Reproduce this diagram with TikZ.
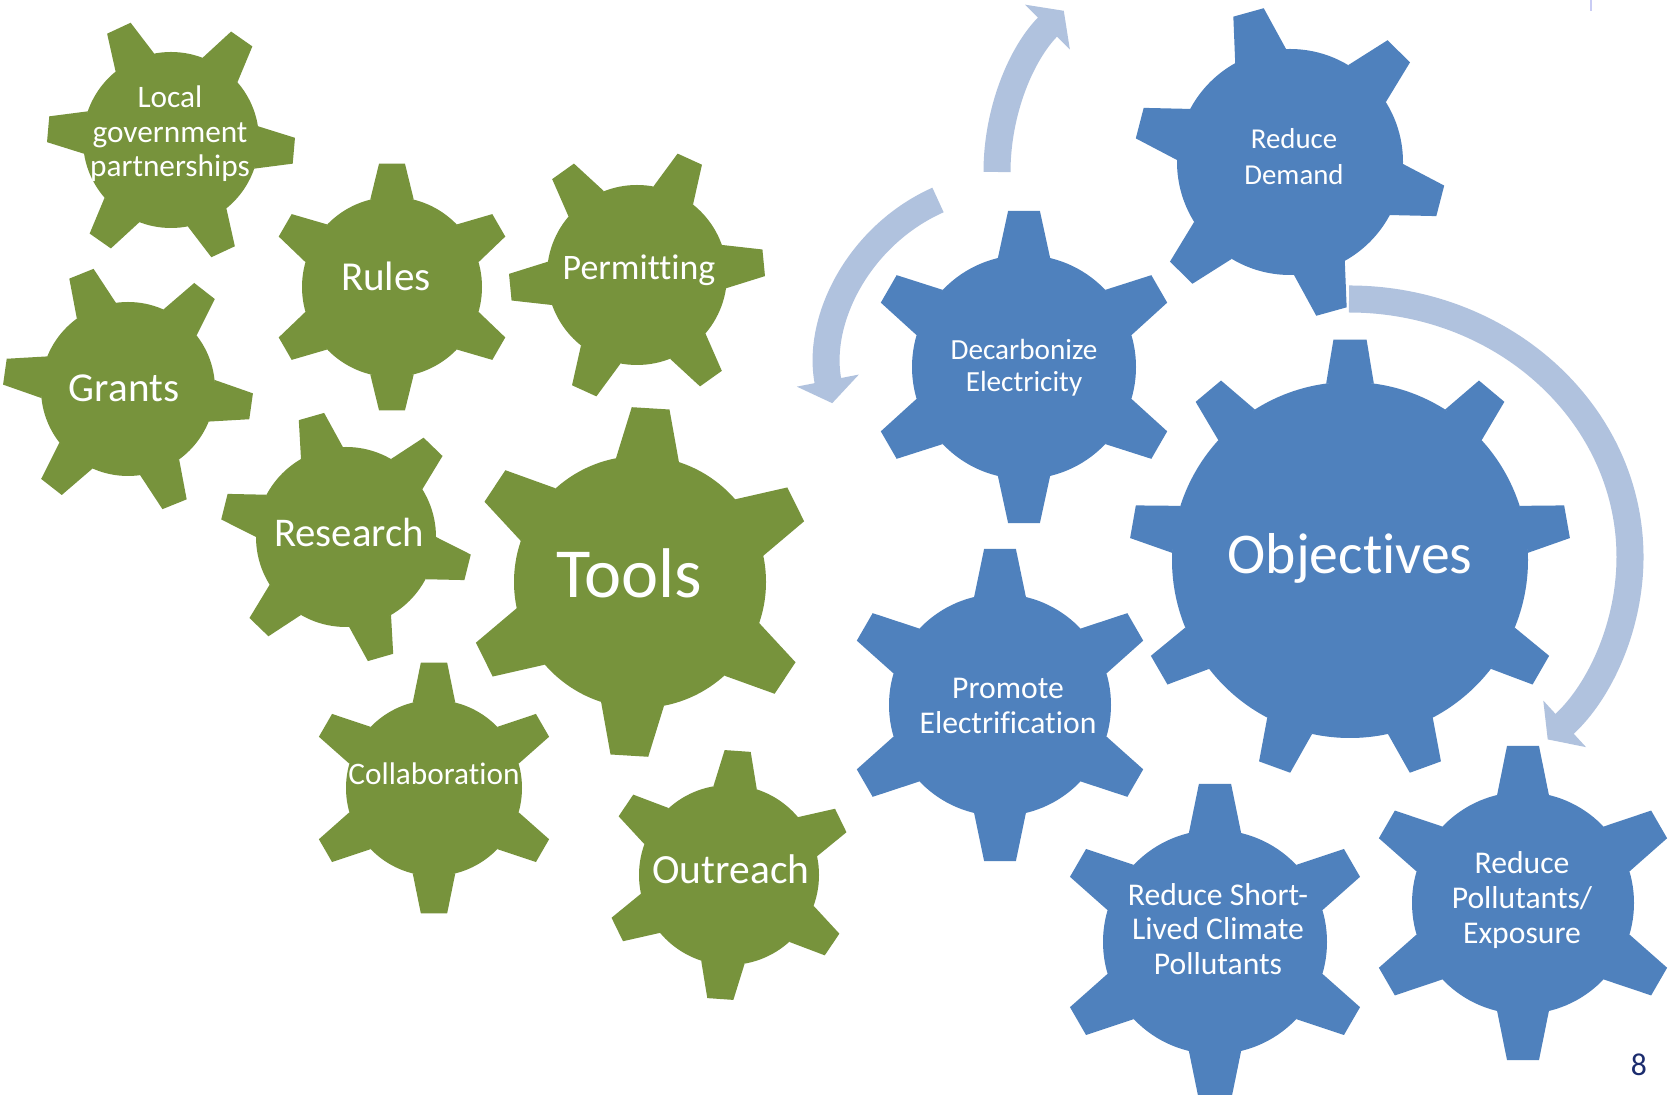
\documentclass[tikz,border=0pt]{standalone}
\usepackage{fontspec}
\setmainfont{Carlito}[RawFeature={-liga;-clig;-calt}]
\usetikzlibrary{arrows.meta}

\definecolor{toolgreen}{HTML}{77933C}
\definecolor{aimblue}{HTML}{4F81BD}
\definecolor{swirl}{HTML}{B0C2DE}
\definecolor{slidenavy}{HTML}{1B2C6E}
\definecolor{edgemark}{HTML}{C9CCF4}

\tikzset{
  pics/cog/.style n args={6}{code={
    \fill (0,0) circle[radius=#1];
    \foreach \k in {1,...,#4}{
      \pgfmathsetmacro\cogangle{#3+360/#4*\k}
      \fill ({\cogangle-#5}:#1) -- ({\cogangle-#6}:#2) -- ({\cogangle+#6}:#2) -- ({\cogangle+#5}:#1) -- cycle;
    }
  }},
  toolcog/.style={toolgreen},
  aimcog/.style={aimblue},
  cogtext/.style={text=white, align=center, inner sep=0pt},
  turnarrow/.style={swirl, line width=0.27cm, -{Triangle[width=0.62cm, length=0.23cm]}},
}

\begin{document}
\begin{tikzpicture}[x=0.01cm, y=-0.01cm]
    \useasboundingbox (0,0) rectangle (1672,1095);
    \fill[white] (0,0) rectangle (1672,1095);
    \fill[edgemark] (1590,0) rectangle (1592,11);

    \coordinate (risetail)  at (997,172);
    \coordinate (swingtail) at (938,200);
    \coordinate (ringtail)  at (1349,299);
    \draw[turnarrow] (risetail)  arc[start angle=180, end angle=225, radius=228];
    \draw[turnarrow] (swingtail) arc[start angle=246, end angle=169, radius=184];
    \draw[turnarrow] (ringtail)  arc[start angle=-90, end angle=45, x radius=281, y radius=258];

    \pic[toolcog] (localcog)   at (171,140)  {cog={88}{124}{5}{6}{14}{6}};
    \pic[toolcog] (grantscog)  at (128,389)  {cog={87}{125}{8}{6}{14}{6}};
    \pic[toolcog] (rulescog)   at (392,287)  {cog={90}{124}{30}{6}{14}{6}};
    \pic[toolcog] (permitcog)  at (637,275)  {cog={90}{128}{-5.5}{6}{14}{6}};
    \pic[toolcog] (researchcog) at (346,537) {cog={90}{126}{14}{6}{14}{6}};
    \pic[toolcog] (toolscog)   at (640,582)  {cog={126}{175}{33.5}{6}{14.5}{6.2}};
    \pic[toolcog] (collabcog)  at (434,788)  {cog={88}{126}{30}{6}{14}{6}};
    \pic[toolcog] (outreachcog) at (729,875) {cog={90}{125}{34}{6}{14}{6}};

    \pic[aimcog] (decarbcog)   at (1024,367) {cog={112}{157}{30}{6}{13.5}{5.8}};
    \pic[aimcog] (demandcog)   at (1290,162) {cog={113}{156}{14.5}{6}{13.5}{5.8}};
    \pic[aimcog] (objectcog)   at (1350,560) {cog={178}{221}{30}{9}{7.7}{4.3}};
    \pic[aimcog] (promotecog)  at (1000,705) {cog={111}{157}{30}{6}{13.5}{5.8}};
    \pic[aimcog] (slcpcog)     at (1215,942) {cog={112}{159}{30}{6}{13.5}{5.8}};
    \pic[aimcog] (exposurecog) at (1523,903) {cog={111}{158}{30}{6}{13.5}{5.8}};

    \node[cogtext, font=\fontsize{8.9}{9.85}\selectfont] (local) at (170,134) {Local\\government\\partnerships};
    \node[cogtext, font=\fontsize{11.7}{13}\selectfont] (grants) at (124,388) {Grants};
    \node[cogtext, font=\fontsize{11.7}{13}\selectfont] (rules) at (386,276) {Rules};
    \node[cogtext, font=\fontsize{10.2}{12}\selectfont] (permitting) at (639,270) {Permitting};
    \node[cogtext, font=\fontsize{11.6}{13}\selectfont] (research) at (349,532) {Research};
    \node[cogtext, font=\fontsize{20}{22}\selectfont] (tools) at (629,573) {Tools};
    \node[cogtext, font=\fontsize{8.9}{10}\selectfont] (collab) at (434,774) {Collaboration};
    \node[cogtext, font=\fontsize{11.8}{13}\selectfont] (outreach) at (731,869) {Outreach};

    \node[cogtext, font=\fontsize{8.3}{9.1}\selectfont] (decarb) at (1024,368) {Decarbonize\\Electricity};
    \node[cogtext, font=\fontsize{8.2}{10.2}\selectfont] (demand) at (1294,157) {Reduce\\Demand};
    \node[cogtext, font=\fontsize{16.4}{18}\selectfont] (objectives) at (1350,558) {Objectives};
    \node[cogtext, font=\fontsize{9}{9.7}\selectfont] (promote) at (1008,706) {Promote\\Electrification};
    \node[cogtext, font=\fontsize{9}{9.85}\selectfont] (slcp) at (1218,929) {Reduce Short-\\Lived Climate\\Pollutants};
    \node[cogtext, font=\fontsize{9}{9.85}\selectfont] (exposure) at (1522,900) {Reduce\\Pollutants/\\Exposure};

    \node[text=slidenavy, inner sep=0pt, font=\fontsize{9}{10}\selectfont] (page) at (1639,1065) {8};
\end{tikzpicture}
\end{document}
